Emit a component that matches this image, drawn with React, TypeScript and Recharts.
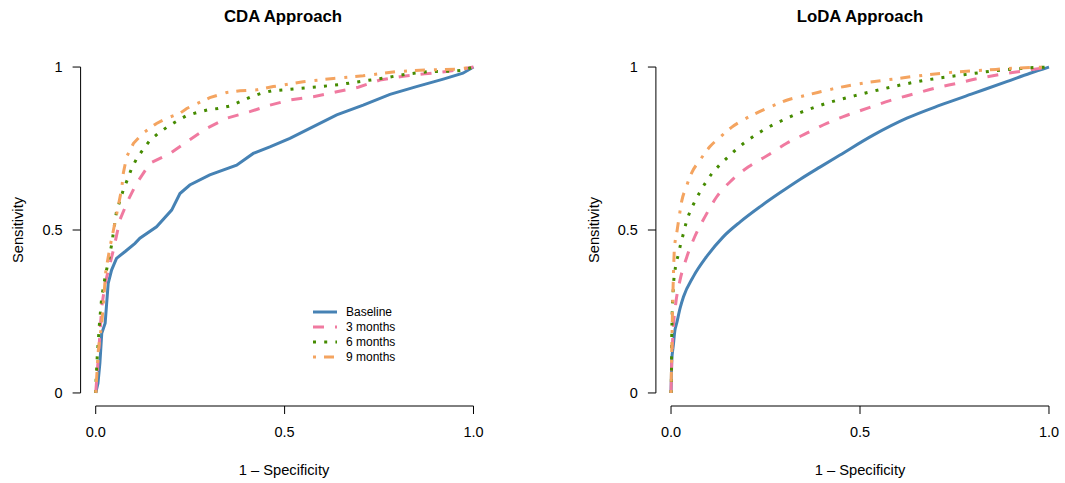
import { LineChart, Line, XAxis, YAxis, ReferenceLine, Legend } from 'recharts';

const FONT = "'Liberation Sans', Arial, Helvetica, sans-serif";

const seriesNames = ['Baseline', '3 months', '6 months', '9 months'];
const xTicks = [0, 0.5, 1];
const yTicks = [0, 0.5, 1];

// CDA approach (empirical ROC curves)
const cdaBaseline = [
  [0, 0], [0.006, 0.03], [0.011, 0.091], [0.016, 0.183], [0.025, 0.214], [0.033, 0.336],
  [0.042, 0.377], [0.055, 0.413], [0.078, 0.434], [0.104, 0.459], [0.117, 0.475],
  [0.161, 0.51], [0.201, 0.561], [0.223, 0.612], [0.249, 0.638], [0.302, 0.669],
  [0.373, 0.699], [0.417, 0.735], [0.461, 0.755], [0.514, 0.781], [0.576, 0.817],
  [0.638, 0.853], [0.708, 0.883], [0.779, 0.916], [0.849, 0.94], [0.92, 0.963],
  [0.972, 0.981], [1, 1],
];
const cda3m = [
  [0, 0], [0.007, 0.111], [0.016, 0.265], [0.025, 0.336], [0.038, 0.398], [0.047, 0.439],
  [0.064, 0.531], [0.086, 0.592], [0.108, 0.643], [0.144, 0.705], [0.197, 0.735],
  [0.241, 0.771], [0.294, 0.812], [0.347, 0.843], [0.408, 0.863], [0.461, 0.883],
  [0.514, 0.899], [0.576, 0.909], [0.638, 0.924], [0.695, 0.938], [0.752, 0.96],
  [0.814, 0.972], [0.871, 0.979], [0.929, 0.986], [0.981, 0.996], [1, 1],
];
const cda6m = [
  [0, 0], [0.001, 0.04], [0.004, 0.111], [0.01, 0.214], [0.016, 0.295], [0.025, 0.357],
  [0.036, 0.418], [0.042, 0.454], [0.051, 0.525], [0.055, 0.556], [0.073, 0.623],
  [0.084, 0.655], [0.095, 0.689], [0.108, 0.718], [0.124, 0.745], [0.142, 0.773],
  [0.163, 0.794], [0.188, 0.815], [0.212, 0.832], [0.239, 0.85], [0.267, 0.86],
  [0.295, 0.868], [0.324, 0.873], [0.354, 0.88], [0.382, 0.894], [0.408, 0.907],
  [0.437, 0.919], [0.466, 0.927], [0.524, 0.933], [0.585, 0.939], [0.644, 0.946],
  [0.703, 0.956], [0.762, 0.966], [0.821, 0.978], [0.881, 0.986], [0.94, 0.987],
  [0.97, 0.99], [1, 1],
];
const cda9m = [
  [0, 0], [0.007, 0.132], [0.016, 0.214], [0.027, 0.377], [0.038, 0.449], [0.047, 0.5],
  [0.062, 0.587], [0.069, 0.628], [0.073, 0.674], [0.082, 0.725], [0.1, 0.766],
  [0.126, 0.798], [0.161, 0.827], [0.188, 0.843], [0.223, 0.858], [0.241, 0.873],
  [0.267, 0.887], [0.302, 0.906], [0.347, 0.922], [0.382, 0.927], [0.426, 0.93],
  [0.47, 0.94], [0.549, 0.955], [0.629, 0.965], [0.708, 0.973], [0.796, 0.986],
  [0.876, 0.991], [0.955, 0.993], [1, 1],
];

// LoDA approach (smooth ROC curves)
const lodaBaseline = [
  [0, 0], [0.001, 0.05], [0.002, 0.1], [0.006, 0.145], [0.01, 0.19], [0.015, 0.214],
  [0.024, 0.26], [0.033, 0.295], [0.059, 0.357], [0.094, 0.418], [0.138, 0.479],
  [0.183, 0.525], [0.235, 0.571], [0.288, 0.614], [0.341, 0.655], [0.394, 0.693],
  [0.447, 0.73], [0.535, 0.791], [0.624, 0.843], [0.712, 0.883], [0.8, 0.919],
  [0.888, 0.955], [0.95, 0.981], [1, 1],
];
const loda3m = [
  [0, 0], [0.001, 0.06], [0.003, 0.13], [0.006, 0.2], [0.012, 0.27], [0.024, 0.347],
  [0.042, 0.418], [0.063, 0.48], [0.09, 0.541], [0.121, 0.602], [0.161, 0.653],
  [0.205, 0.694], [0.257, 0.73], [0.306, 0.766], [0.359, 0.797], [0.412, 0.827],
  [0.456, 0.848], [0.526, 0.876], [0.579, 0.897], [0.641, 0.917], [0.698, 0.935],
  [0.756, 0.95], [0.813, 0.965], [0.875, 0.978], [0.932, 0.988], [1, 1],
];
const loda6m = [
  [0, 0], [0.001, 0.04], [0.002, 0.183], [0.006, 0.321], [0.012, 0.388], [0.019, 0.423],
  [0.026, 0.459], [0.033, 0.49], [0.04, 0.522], [0.05, 0.556], [0.063, 0.587],
  [0.077, 0.618], [0.093, 0.648], [0.11, 0.676], [0.13, 0.701], [0.152, 0.725],
  [0.174, 0.749], [0.198, 0.771], [0.222, 0.79], [0.248, 0.809], [0.274, 0.825],
  [0.301, 0.84], [0.328, 0.854], [0.355, 0.866], [0.384, 0.878], [0.412, 0.889],
  [0.442, 0.899], [0.5, 0.916], [0.557, 0.932], [0.616, 0.947], [0.675, 0.96],
  [0.733, 0.97], [0.792, 0.979], [0.852, 0.988], [0.911, 0.994], [0.97, 0.999], [1, 1],
];
const loda9m = [
  [0, 0], [0.002, 0.132], [0.004, 0.255], [0.006, 0.347], [0.009, 0.444], [0.015, 0.49],
  [0.021, 0.536], [0.028, 0.587], [0.04, 0.631], [0.054, 0.674], [0.077, 0.715],
  [0.103, 0.756], [0.129, 0.784], [0.16, 0.815], [0.196, 0.841], [0.23, 0.861],
  [0.269, 0.881], [0.308, 0.899], [0.349, 0.911], [0.388, 0.922], [0.428, 0.933],
  [0.51, 0.951], [0.594, 0.964], [0.677, 0.976], [0.757, 0.985], [0.836, 0.991],
  [0.919, 0.997], [1, 1],
];

const cdaSeries = [cdaBaseline, cda3m, cda6m, cda9m];
const lodaSeries = [lodaBaseline, loda3m, loda6m, loda9m];

const lineStyles = [
  { color: '#4682B4', dash: undefined },
  { color: '#F07AA0', dash: '11 11' },
  { color: '#458B00', dash: '3 8.2' },
  { color: '#F4A460', dash: '3 8 10 9' },
];

const toPoints = (pts: number[][]) => pts.map(([x, y]) => ({ x, y }));

const renderLegend = () => (
  <div style={{ fontFamily: FONT, fontSize: 12, color: '#000' }}>
    {seriesNames.map((name, i) => (
      <div key={name} style={{ display: 'flex', alignItems: 'center', height: 14.8 }}>
        <svg width={34} height={10} style={{ display: 'block' }}>
          <line x1={1} y1={5} x2={25} y2={5} stroke={lineStyles[i].color} strokeWidth={3}
            strokeDasharray={lineStyles[i].dash} />
        </svg>
        <span style={{ lineHeight: '14px' }}>{name}</span>
      </div>
    ))}
  </div>
);

function Panel({ series, width, margin, legend, smooth }: {
  series: number[][][];
  width: number;
  margin: { top: number; right: number; bottom: number; left: number };
  legend?: boolean;
  smooth?: boolean;
}) {
  const tickStyle = { fill: '#000', fontSize: 14.5, fontFamily: FONT };
  return (
    <LineChart width={width} height={483} margin={margin}>
      <XAxis type="number" dataKey="x" domain={[-0.04, 1.04]} allowDataOverflow ticks={xTicks}
        interval={0} tickFormatter={(v: number) => v.toFixed(1)} axisLine={false}
        tickLine={{ stroke: '#000' }} tickSize={8} tickMargin={13} height={30} tick={tickStyle} />
      <YAxis type="number" dataKey="y" domain={[-0.04, 1.04]} allowDataOverflow ticks={yTicks}
        interval={0} tickFormatter={(v: number) => String(v)} axisLine={false}
        tickLine={{ stroke: '#000' }} tickSize={8} tickMargin={10} width={60} tick={tickStyle} />
      <ReferenceLine segment={[{ x: 0, y: -0.04 }, { x: 1, y: -0.04 }]} stroke="#000" strokeWidth={1} />
      <ReferenceLine segment={[{ x: -0.04, y: 0 }, { x: -0.04, y: 1 }]} stroke="#000" strokeWidth={1} />
      {series.map((pts, i) => (
        <Line key={seriesNames[i]} name={seriesNames[i]} data={toPoints(pts)} dataKey="y"
          type={smooth ? 'monotoneX' : 'linear'} stroke={lineStyles[i].color} strokeWidth={3}
          strokeDasharray={lineStyles[i].dash} dot={false} activeDot={false}
          isAnimationActive={false} />
      ))}
      {legend && (
        <Legend layout="vertical" align="center" verticalAlign="middle" content={renderLegend}
          wrapperStyle={{ left: 312, top: 305, width: 110, height: 60 }} />
      )}
    </LineChart>
  );
}

const textBase: React.CSSProperties = {
  position: 'absolute', fontFamily: FONT, color: '#000', whiteSpace: 'nowrap', textAlign: 'center',
};

export default function App() {
  return (
    <div style={{ position: 'fixed', left: 0, top: 0, width: 1065, height: 483, background: '#fff' }}>
      <div style={{ position: 'absolute', left: 0, top: 0 }}>
        <Panel series={cdaSeries} width={532} legend
          margin={{ top: 54, right: 43.4, bottom: 47, left: 20.6 }} />
      </div>
      <div style={{ position: 'absolute', left: 532, top: 0 }}>
        <Panel series={lodaSeries} width={533} smooth
          margin={{ top: 54, right: 0.9, bottom: 47, left: 63.9 }} />
      </div>

      <div style={{ ...textBase, left: 183, width: 200, top: 7, fontSize: 16.8, fontWeight: 'bold', lineHeight: '20px' }}>
        CDA Approach
      </div>
      <div style={{ ...textBase, left: 760, width: 200, top: 7, fontSize: 16.8, fontWeight: 'bold', lineHeight: '20px' }}>
        LoDA Approach
      </div>

      <div style={{ ...textBase, left: 184, width: 200, top: 461, fontSize: 14.7, lineHeight: '18px' }}>
        1 – Specificity
      </div>
      <div style={{ ...textBase, left: 760, width: 200, top: 461, fontSize: 14.7, lineHeight: '18px' }}>
        1 – Specificity
      </div>

      <div style={{ ...textBase, left: 18 - 50, width: 100, top: 230 - 9, fontSize: 14.7, lineHeight: '18px', transform: 'rotate(-90deg)' }}>
        Sensitivity
      </div>
      <div style={{ ...textBase, left: 594 - 50, width: 100, top: 230 - 9, fontSize: 14.7, lineHeight: '18px', transform: 'rotate(-90deg)' }}>
        Sensitivity
      </div>
    </div>
  );
}
